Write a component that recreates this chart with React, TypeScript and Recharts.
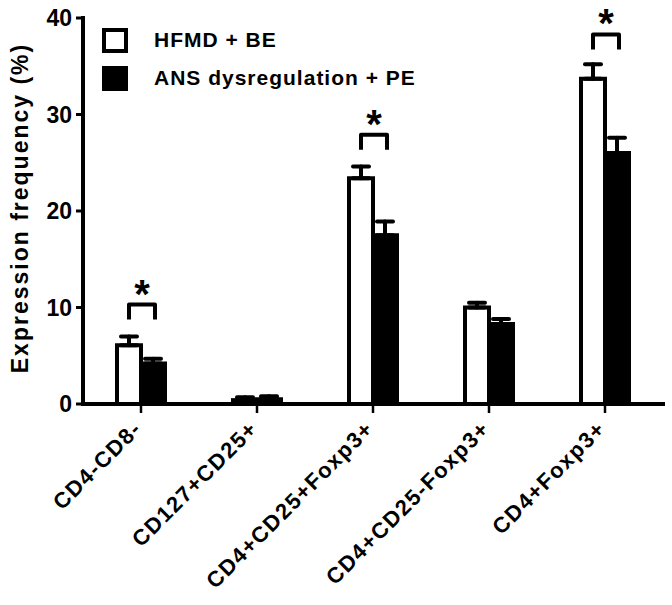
import { ComposedChart, Bar, Line, ErrorBar, XAxis, YAxis, Legend, Label } from 'recharts'

const categories = ['CD4-CD8-', 'CD127+CD25+', 'CD4+CD25+Foxp3+', 'CD4+CD25-Foxp3+', 'CD4+Foxp3+']
const hfmdBe = [6.1, 0.4, 23.4, 10.0, 33.7]
const hfmdBeErr = [0.9, 0.3, 1.2, 0.5, 1.5]
const ansPe = [4.2, 0.5, 17.5, 8.3, 26.0]
const ansPeErr = [0.5, 0.3, 1.4, 0.5, 1.6]
// height of the significance bracket, null where there is none
const sigLevel = [10.3, null, 27.9, null, 38.3]
const yTicks = [0, 10, 20, 30, 40]
const seriesKeys = ['be', 'pe']

const data = categories.map((name, i) => ({
  name,
  be: hfmdBe[i],
  beErr: [0, hfmdBeErr[i]],
  pe: ansPe[i],
  peErr: [0, ansPeErr[i]],
  sig: sigLevel[i],
}))

const FONT = '"Liberation Sans", Arial, sans-serif'

function XTick({ x, y, payload }: any) {
  return (
    <g transform={`translate(${x + 2},${y + 15})`}>
      <text
        transform="rotate(-45)"
        textAnchor="end"
        fontFamily={FONT}
        fontWeight="bold"
        fontSize={22}
        letterSpacing={1.5}
        fill="#000"
      >
        {payload.value}
      </text>
    </g>
  )
}

function YTitle({ viewBox }: any) {
  const cx = (viewBox?.x ?? 0) + 28
  const cy = (viewBox?.y ?? 18) + (viewBox?.height ?? 386) / 2 - 3
  return (
    <text
      transform={`translate(${cx},${cy}) rotate(-90)`}
      textAnchor="middle"
      fontFamily={FONT}
      fontWeight="bold"
      fontSize={23}
      letterSpacing={2}
      fill="#000"
    >
      Expression frequency (%)
    </text>
  )
}

function SigMark({ cx, cy, value, index }: any) {
  if (value == null || cy == null || isNaN(cy)) return <g key={index} />
  return (
    <g key={index}>
      <path
        d={`M${cx - 12},${cy + 15} V${cy} H${cx + 14} V${cy + 15}`}
        fill="none"
        stroke="#000"
        strokeWidth={4}
        strokeLinejoin="round"
      />
      <text
        x={cx + 1}
        y={cy + 3}
        textAnchor="middle"
        fontFamily={FONT}
        fontWeight="bold"
        fontSize={40}
        fill="#000"
      >
        *
      </text>
    </g>
  )
}

function LegendBox({ payload }: any) {
  const items = seriesKeys
    .map((k) => (payload || []).find((p: any) => p.dataKey === k))
    .filter(Boolean)
  return (
    <div style={{ fontFamily: FONT, fontWeight: 'bold', fontSize: 21, letterSpacing: 1, color: '#000' }}>
      {items.map((p: any, i: number) => (
        <div key={i} style={{ display: 'flex', alignItems: 'center', height: 38 }}>
          <span
            style={{
              display: 'inline-block',
              boxSizing: 'border-box',
              width: 26,
              height: 25,
              border: '4px solid #000',
              background: i === 0 ? '#fff' : '#000',
              marginRight: 26,
            }}
          />
          <span>{p.value}</span>
        </div>
      ))}
    </div>
  )
}

export default function App() {
  return (
    <div style={{ position: 'absolute', left: 0, top: 0, background: '#fff' }}>
      <ComposedChart
        width={672}
        height={605}
        data={data}
        margin={{ top: 18, right: 9, left: 0, bottom: 0 }}
        barGap={0}
      >
        <XAxis
          dataKey="name"
          interval={0}
          height={201}
          tickSize={9}
          tick={<XTick />}
          axisLine={{ stroke: '#000', strokeWidth: 4, strokeLinecap: 'square' }}
          tickLine={{ stroke: '#000', strokeWidth: 2.5 }}
        />
        <YAxis
          domain={[0, 40]}
          ticks={yTicks}
          width={83}
          tickSize={7}
          tickMargin={4}
          tick={{ fill: '#000', fontSize: 23, fontWeight: 'bold', fontFamily: FONT }}
          axisLine={{ stroke: '#000', strokeWidth: 4, strokeLinecap: 'square' }}
          tickLine={{ stroke: '#000', strokeWidth: 3 }}
        >
          <Label content={<YTitle />} />
        </YAxis>
        <Legend
          layout="horizontal"
          verticalAlign="middle"
          align="center"
          content={<LegendBox />}
          wrapperStyle={{ left: 102, top: 21, width: 'auto' }}
        />
        <Bar dataKey="be" name="HFMD + BE" fill="#fff" stroke="#000" strokeWidth={4} barSize={24} isAnimationActive={false}>
          <ErrorBar dataKey="beErr" width={8} stroke="#000" strokeWidth={4} strokeLinecap="round" />
        </Bar>
        <Bar dataKey="pe" name="ANS dysregulation + PE" fill="#000" stroke="#000" strokeWidth={4} barSize={24} isAnimationActive={false}>
          <ErrorBar dataKey="peErr" width={8} stroke="#000" strokeWidth={4} strokeLinecap="round" />
        </Bar>
        <Line
          dataKey="sig"
          stroke="none"
          legendType="none"
          dot={SigMark}
          activeDot={false}
          isAnimationActive={false}
        />
      </ComposedChart>
    </div>
  )
}
